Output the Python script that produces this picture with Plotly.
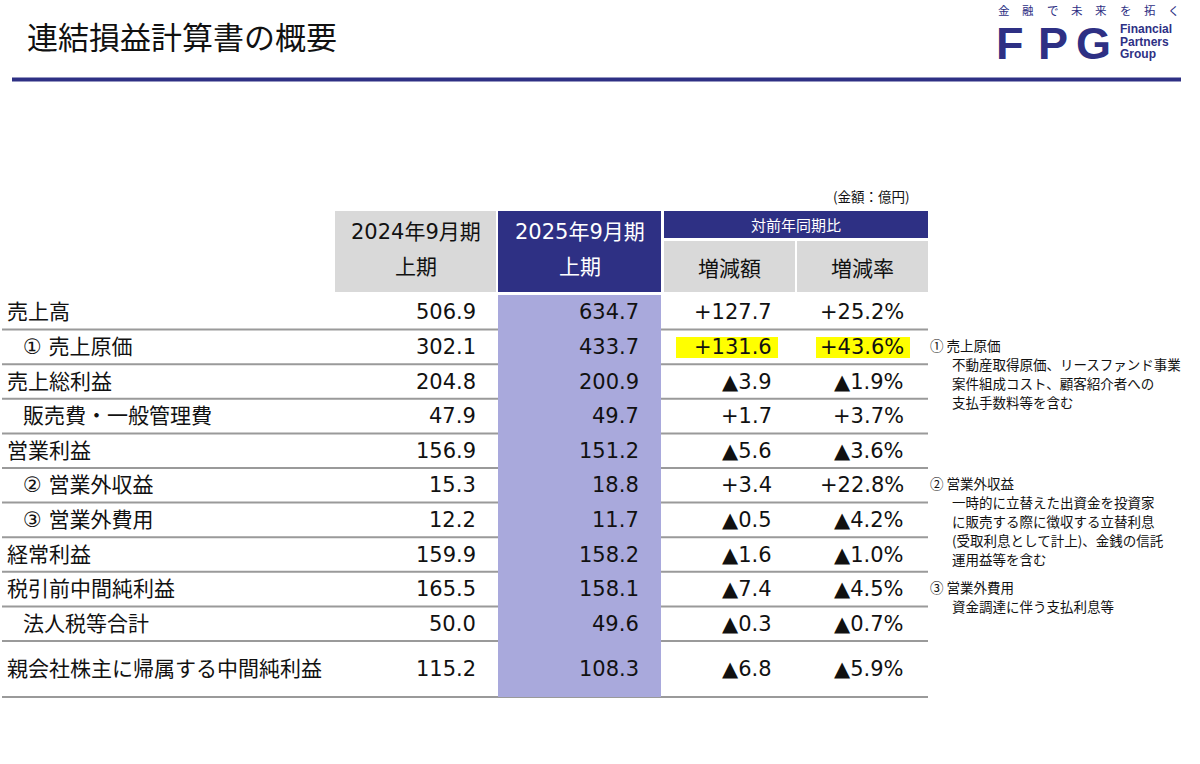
import plotly.graph_objects as go

# --- data -------------------------------------------------------------
title = "連結損益計算書の概要"
unit_label = "(金額：億円)"

row_labels = [
    "売上高", "① 売上原価", "売上総利益", "販売費・一般管理費", "営業利益",
    "② 営業外収益", "③ 営業外費用", "経常利益", "税引前中間純利益",
    "法人税等合計", "親会社株主に帰属する中間純利益",
]
row_indent = [0, 1, 0, 1, 0, 1, 1, 0, 0, 1, 0]
prev_half = [506.9, 302.1, 204.8, 47.9, 156.9, 15.3, 12.2, 159.9, 165.5, 50.0, 115.2]
curr_half = [634.7, 433.7, 200.9, 49.7, 151.2, 18.8, 11.7, 158.2, 158.1, 49.6, 108.3]
change_amt = [127.7, 131.6, -3.9, 1.7, -5.6, 3.4, -0.5, -1.6, -7.4, -0.3, -6.8]
change_pct = [25.2, 43.6, -1.9, 3.7, -3.6, 22.8, -4.2, -1.0, -4.5, -0.7, -5.9]
highlight_rows = [1]

period_headers = [["2024年9月期", "上期"], ["2025年9月期", "上期"]]
comp_header = "対前年同期比"
comp_sub = ["増減額", "増減率"]

note_rows = [1, 5, 8]
note_titles = ["① 売上原価", "② 営業外収益", "③ 営業外費用"]
note_bodies = [
    ["不動産取得原価、リースファンド事業", "案件組成コスト、顧客紹介者への", "支払手数料等を含む"],
    ["一時的に立替えた出資金を投資家", "に販売する際に徴収する立替利息",
     "(受取利息として計上)、金銭の信託", "運用益等を含む"],
    ["資金調達に伴う支払利息等"],
]

logo_tagline = "金融で未来を拓く"
logo_mark = "FPG"
logo_words = ["Financial", "Partners", "Group"]

# --- layout constants -------------------------------------------------
W, H = 1200, 764
NAVY = "#2e3084"
GRAY = "#d9d9d9"
LAVENDER = "#a9a9dc"
LINE = "#9a9a9a"
TXT = "#111111"
FONT = "DejaVu Sans, Noto Sans CJK JP, sans-serif"
JP = "Noto Sans CJK JP, sans-serif"

table_top = 295
row_h = 34.6
last_h = 56
bounds = [table_top]
for i in range(len(row_labels)):
    bounds.append(bounds[-1] + (last_h if i == len(row_labels) - 1 else row_h))
centers = [(bounds[i] + bounds[i + 1]) / 2 for i in range(len(row_labels))]

col_box = [(335, 496), (498, 661), (664, 795), (797, 928)]
col_right = [478, 641, 774, 906]
hl_width = [98, 90]


def fmt_change(v, pct=False):
    s = f"{abs(v):.1f}" + ("%" if pct else "")
    return ("+" if v > 0 else "▲") + s


fig = go.Figure()
fig.add_trace(go.Scatter(x=[0], y=[0], mode="markers", marker=dict(opacity=0),
                         hoverinfo="skip", showlegend=False))

shapes = []
ann = []


def text(x, y, s, size, color=TXT, anchor="left", family=FONT, bold=False):
    if bold:
        s = f"<b>{s}</b>"
    ann.append(dict(x=x, y=y, xref="x", yref="y", text=s, showarrow=False,
                    xanchor=anchor, yanchor="middle",
                    font=dict(size=size, color=color, family=family)))


# title + rule
text(25, 35, title, 31, family=JP)
shapes.append(dict(type="line", x0=12, x1=1181, y0=79.5, y1=79.5,
                   line=dict(color=NAVY, width=4)))

# logo
for k, ch in enumerate(logo_tagline):
    text(1004 + k * 24.3, 9.5, ch, 11.5, color=NAVY, anchor="center", family=JP)
for k, ch in enumerate(logo_mark):
    text([1009.5, 1053, 1093.5][k], 43.5, ch, 45, color=NAVY, anchor="center",
         family="Liberation Sans, Arial, sans-serif", bold=True)
for k, w in enumerate(logo_words):
    text(1118, 29 + k * 12.7, w, 12, color=NAVY,
         family="Liberation Sans, Arial, sans-serif", bold=True)

# unit
text(912, 196, unit_label, 13.5, anchor="right", family=JP)

# header boxes
shapes.append(dict(type="rect", x0=col_box[0][0], x1=col_box[0][1], y0=211, y1=292,
                   fillcolor=GRAY, line_width=0))
shapes.append(dict(type="rect", x0=col_box[1][0], x1=col_box[1][1], y0=211, y1=292,
                   fillcolor=NAVY, line_width=0))
shapes.append(dict(type="rect", x0=col_box[2][0], x1=col_box[3][1], y0=211, y1=238,
                   fillcolor=NAVY, line_width=0))
for c in (2, 3):
    shapes.append(dict(type="rect", x0=col_box[c][0], x1=col_box[c][1], y0=241, y1=292,
                       fillcolor=GRAY, line_width=0))

for c, lines in enumerate(period_headers):
    xc = (col_box[c][0] + col_box[c][1]) / 2
    col = TXT if c == 0 else "white"
    text(xc, 232, lines[0], 21, color=col, anchor="center")
    text(xc, 267, lines[1], 21, color=col, anchor="center")
text((col_box[2][0] + col_box[3][1]) / 2, 224.5, comp_header, 15, color="white",
     anchor="center", family=JP)
for k, s in enumerate(comp_sub):
    c = k + 2
    text((col_box[c][0] + col_box[c][1]) / 2, 267, s, 21, anchor="center", family=JP)

# row separators
for b in bounds[1:]:
    shapes.append(dict(type="line", x0=2, x1=928, y0=b, y1=b,
                       line=dict(color=LINE, width=2)))
# highlighted column
shapes.append(dict(type="rect", x0=col_box[1][0], x1=col_box[1][1],
                   y0=table_top, y1=bounds[-1], fillcolor=LAVENDER, line_width=0))

# highlights behind changes
for r in highlight_rows:
    for k, c in enumerate((2, 3)):
        shapes.append(dict(type="rect", x0=col_right[c] - hl_width[k], x1=col_right[c] + 4,
                           y0=centers[r] - 10, y1=centers[r] + 11,
                           fillcolor="#ffff00", line_width=0, layer="below"))

# body
for i, lab in enumerate(row_labels):
    y = centers[i]
    text(5 + 16 * row_indent[i], y, lab, 21)
    text(col_right[0], y, f"{prev_half[i]:.1f}", 21, anchor="right")
    text(col_right[1], y, f"{curr_half[i]:.1f}", 21, anchor="right")
    text(col_right[2], y, fmt_change(change_amt[i]), 21, anchor="right")
    text(col_right[3], y, fmt_change(change_pct[i], pct=True), 21, anchor="right")

# side notes
for r, t, body in zip(note_rows, note_titles, note_bodies):
    y0 = centers[r] - 2
    text(928, y0, t, 13.5, family=JP)
    for j, line in enumerate(body):
        text(950, y0 + 19 * (j + 1), line, 13.5, family=JP)

fig.update_layout(
    width=W, height=H,
    margin=dict(l=0, r=0, t=0, b=0),
    paper_bgcolor="white", plot_bgcolor="white",
    xaxis=dict(range=[0, W], visible=False, fixedrange=True),
    yaxis=dict(range=[H, 0], visible=False, fixedrange=True),
    shapes=shapes, annotations=ann, showlegend=False,
)

fig.write_html("out.html", config={"displayModeBar": False},
               post_script="document.body.style.margin='0px';")
